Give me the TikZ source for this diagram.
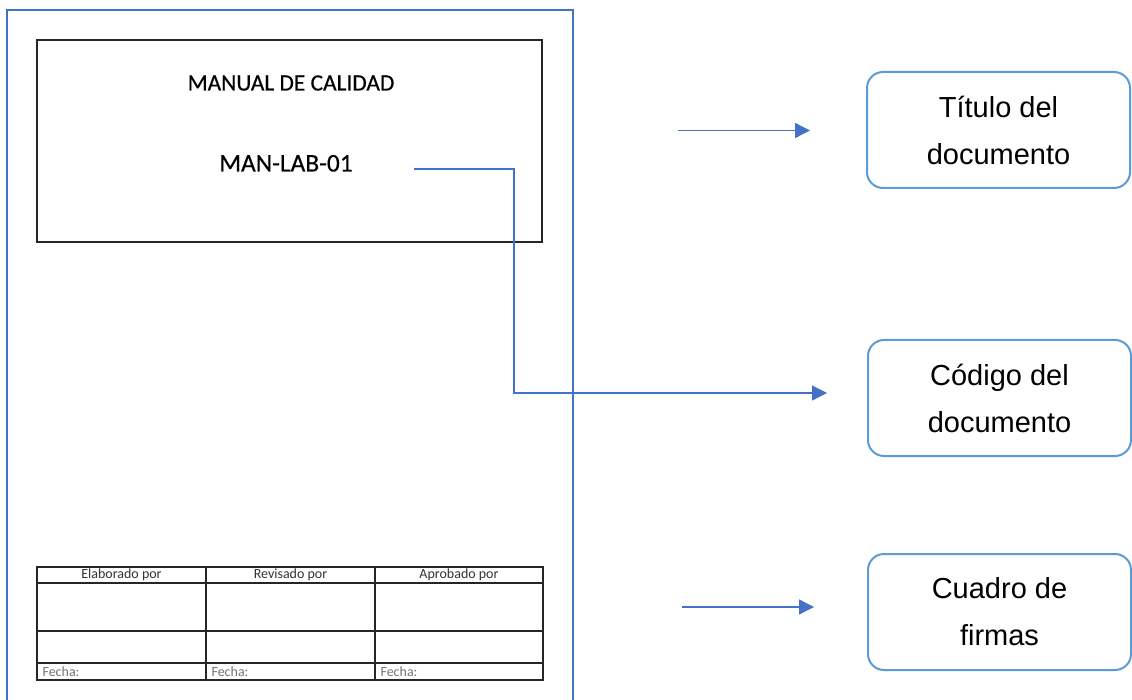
\documentclass[tikz,border=0pt]{standalone}
\usepackage{fontspec}
\setmainfont{Carlito}
\newfontfamily\headfont{Carlito}[FakeBold=0.5]
\newfontfamily\arialfont{Liberation Sans}
\usetikzlibrary{arrows.meta}
\definecolor{frameblue}{HTML}{4472C4}
\definecolor{boxblue}{HTML}{5B9BD5}
\definecolor{linkblue}{HTML}{4472C4}

\begin{document}
\begin{tikzpicture}[x=1pt,y=-1pt,
  sheet/.style={draw=frameblue,line width=1.3pt},
  ruled/.style={draw=black!85,line width=1.2pt},
  calloutbox/.style={draw=boxblue,line width=2pt,rounded corners=16pt,
    minimum width=263pt,minimum height=116pt,inner sep=0pt,
    font=\arialfont\fontsize{29}{47}\selectfont,align=center},
  pointer/.style={draw=linkblue,line width=1.3pt,
    -{Triangle[length=15pt,width=15pt,fill=linkblue]}},
  headtext/.style={font=\headfont\fontsize{23.4}{28}\selectfont,anchor=base},
  celltext/.style={font=\fontsize{14}{16}\selectfont,anchor=base,text=black!80},
]
\useasboundingbox (0,0) rectangle (1132,700);
\fill[white] (0,0) rectangle (1132,700);

% document sheet
\draw[sheet] (7,701) -- (7,10) -- (573,10) -- (573,701);

% heading frame
\draw[ruled] (37,40) rectangle (542,242);
\node[headtext] (manual) at (291,90.5) {MANUAL DE CALIDAD};
\node[headtext,font=\headfont\fontsize{25.4}{30}\selectfont] (code) at (286,171.5) {MAN-LAB-01};

% signature table
\draw[ruled] (37,567) rectangle (543,680);
\draw[ruled] (37,583) -- (543,583);
\draw[ruled] (37,631) -- (543,631);
\draw[ruled] (37,663) -- (543,663);
\draw[ruled] (206,567) -- (206,680);
\draw[ruled] (375,567) -- (375,680);
\node[celltext] (elab) at (121.5,578.5) {Elaborado por};
\node[celltext] (rev) at (290.5,578.5) {Revisado por};
\node[celltext] (apr) at (459,578.5) {Aprobado por};
\node[celltext,anchor=base west,text=black!55] (fecha1) at (39,676) {Fecha:};
\node[celltext,anchor=base west,text=black!55] (fecha2) at (208,676) {Fecha:};
\node[celltext,anchor=base west,text=black!55] (fecha3) at (377,676) {Fecha:};

% callout boxes
\node[calloutbox] (titlebox) at (998.5,130) {Título del\\documento};
\node[calloutbox] (codebox) at (999.5,398) {Código del\\documento};
\node[calloutbox] (signbox) at (999.5,612) {Cuadro de\\firmas};

% pointers
\coordinate (titlefrom) at (678,130.5);
\coordinate (titleto) at (810,130.5);
\coordinate (codefrom) at (414,169);
\coordinate (codeto) at (827,393);
\coordinate (signfrom) at (682,607);
\coordinate (signto) at (814,607);
\draw[pointer] (titlefrom) -- (titleto);
\draw[pointer] (codefrom) -- (514,169) -- (514,393) -- (codeto);
\draw[pointer] (signfrom) -- (signto);
\end{tikzpicture}
\end{document}
